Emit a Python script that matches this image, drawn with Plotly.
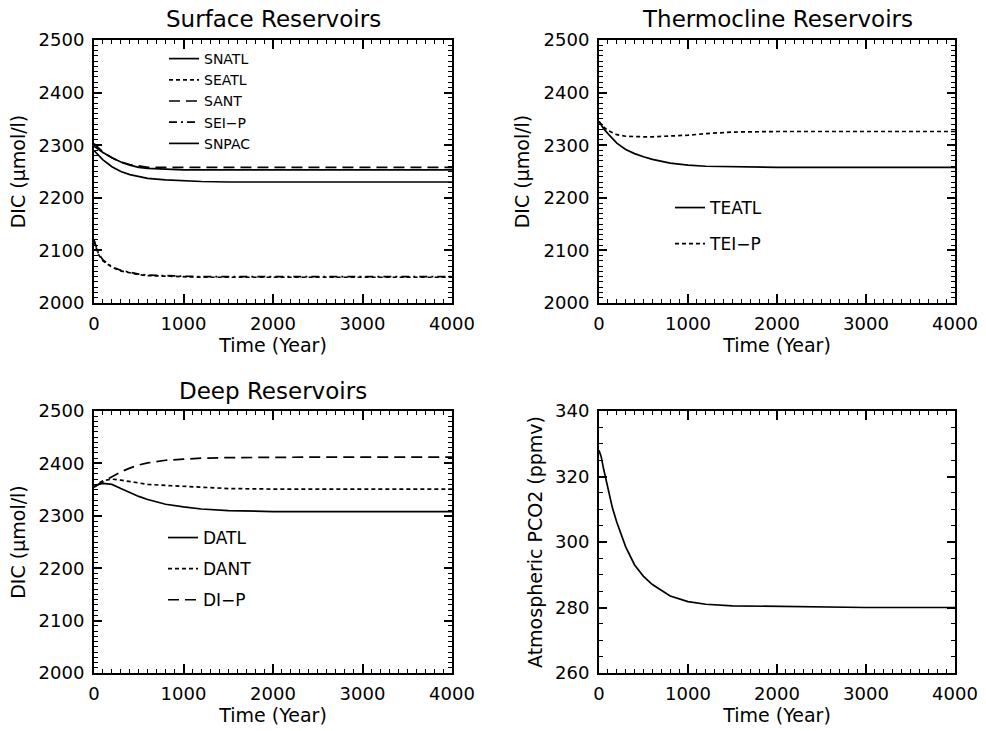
import plotly.graph_objects as go

# ---------------- data ----------------
t = [0, 50, 100, 200, 300, 400, 500, 600, 800, 1000, 1200, 1500, 2000, 2500, 3000, 3500, 4000]

snatl = [2298, 2292, 2286, 2276, 2268, 2262, 2258, 2256, 2254, 2253, 2253, 2253, 2253, 2253, 2253, 2253, 2253]
seatl = [2118, 2092, 2080, 2068, 2061, 2057, 2054, 2052, 2051, 2050, 2049, 2049, 2049, 2049, 2049, 2049, 2049]
sant  = [2303, 2294, 2287, 2276, 2268, 2263, 2260, 2258, 2258, 2258, 2258, 2258, 2258, 2258, 2258, 2258, 2258]
seip  = [2120, 2094, 2082, 2069, 2062, 2058, 2055, 2053, 2052, 2051, 2050, 2050, 2050, 2050, 2050, 2050, 2050]
snpac = [2290, 2280, 2272, 2259, 2250, 2244, 2240, 2237, 2234, 2232, 2231, 2230, 2230, 2230, 2230, 2230, 2230]

teatl = [2345, 2332, 2322, 2304, 2292, 2284, 2278, 2273, 2266, 2262, 2260, 2259, 2258, 2258, 2258, 2258, 2258]
teip  = [2345, 2335, 2328, 2320, 2317, 2316, 2316, 2316, 2317, 2319, 2322, 2325, 2326, 2326, 2326, 2326, 2326]

datl  = [2355, 2360, 2362, 2360, 2352, 2344, 2337, 2331, 2322, 2317, 2313, 2310, 2308, 2308, 2308, 2308, 2308]
dant  = [2355, 2362, 2367, 2370, 2368, 2365, 2362, 2360, 2358, 2356, 2354, 2352, 2351, 2351, 2351, 2351, 2351]
dip   = [2355, 2360, 2365, 2375, 2384, 2391, 2397, 2401, 2406, 2408, 2410, 2411, 2412, 2412, 2412, 2412, 2412]

ta    = [0, 25, 50, 75, 100, 150, 200, 300, 400, 500, 600, 800, 1000, 1200, 1500, 2000, 2500, 3000, 4000]
pco2  = [328, 326, 322.5, 319.5, 316, 310.5, 306, 298.5, 293, 289.5, 287, 283.5, 281.8, 281, 280.5, 280.3, 280.1, 280, 280]

x_ticks = [0, 1000, 2000, 3000, 4000]
dic_ticks = [2000, 2100, 2200, 2300, 2400, 2500]
pco2_ticks = [260, 280, 300, 320, 340]

# ---------------- figure ----------------
FONT = "DejaVu Sans"
fig = go.Figure()

LW = 1.7
def add(x, y, name, dash, xa, ya, leg, grp):
    fig.add_trace(go.Scatter(x=x, y=y, mode="lines", name=name,
                             line=dict(color="black", width=LW, dash=dash),
                             xaxis=xa, yaxis=ya, legend=leg, legendgroup=grp,
                             showlegend=leg is not None, hoverinfo="skip"))

SOLID = "solid"
SHORT = "4px,3px"
LONG = "11px,6px"
DASHDOT = "8px,4px,2px,4px"

add(t, snatl, "SNATL", SOLID, "x", "y", "legend", "a1")
add(t, seatl, "SEATL", SHORT, "x", "y", "legend", "a2")
add(t, sant, "SANT", LONG, "x", "y", "legend", "a3")
add(t, seip, "SEI\u2212P", DASHDOT, "x", "y", "legend", "a4")
add(t, snpac, "SNPAC", SOLID, "x", "y", "legend", "a5")

add(t, teatl, "TEATL", SOLID, "x2", "y2", "legend2", "b1")
add(t, teip, "TEI\u2212P", SHORT, "x2", "y2", "legend2", "b2")

add(t, datl, "DATL", SOLID, "x3", "y3", "legend3", "c1")
add(t, dant, "DANT", SHORT, "x3", "y3", "legend3", "c2")
add(t, dip, "DI\u2212P", LONG, "x3", "y3", "legend3", "c3")

add(ta, pco2, "PCO2", SOLID, "x4", "y4", None, "d1")

W, H = 986, 731
LX = [94 / W, 452 / W]
RX = [599 / W, 955 / W]
TY = [1 - 303 / H, 1 - 40 / H]
BY = [1 - 673 / H, 1 - 411 / H]

tickfont = dict(family=FONT, size=18, color="black")
titlefont = dict(family=FONT, size=19, color="black")

def xax(dom, anchor):
    return dict(domain=dom, anchor=anchor, range=[0, 4000], tickvals=x_ticks,
                ticktext=[str(v) for v in x_ticks], automargin=False,
                ticks="inside", ticklen=9, tickwidth=1.5, tickcolor="black",
                minor=dict(dtick=100, tick0=0, ticks="inside", ticklen=4, tickwidth=1.2, tickcolor="black"),
                showline=True, linewidth=2, linecolor="black", mirror="ticks",
                showgrid=False, zeroline=False, tickfont=tickfont, ticklabelstandoff=3,
                title=dict(text="Time (Year)", font=titlefont, standoff=2))

def yax(dom, anchor, rng, tv, minor_dt, title, standoff):
    return dict(domain=dom, anchor=anchor, range=rng, tickvals=tv,
                ticktext=[str(v) for v in tv], automargin=False,
                ticks="inside", ticklen=8, tickwidth=1.5, tickcolor="black",
                minor=dict(dtick=minor_dt, tick0=rng[0], ticks="inside", ticklen=4, tickwidth=1.2, tickcolor="black"),
                showline=True, linewidth=2, linecolor="black", mirror="ticks",
                showgrid=False, zeroline=False, tickfont=tickfont, ticklabelstandoff=4,
                title=dict(text=title, font=titlefont, standoff=standoff))

dic_title = "DIC (\u03bcmol/l)"
fig.update_layout(
    width=W, height=H, margin=dict(l=0, r=0, t=0, b=0, autoexpand=False),
    paper_bgcolor="white", plot_bgcolor="white",
    font=dict(family=FONT, color="black"),
    xaxis=xax(LX, "y"), yaxis=yax(TY, "x", [2000, 2500], dic_ticks, 10, dic_title, 8),
    xaxis2=xax(RX, "y2"), yaxis2=yax(TY, "x2", [2000, 2500], dic_ticks, 10, dic_title, 9),
    xaxis3=xax(LX, "y3"), yaxis3=yax(BY, "x3", [2000, 2500], dic_ticks, 10, dic_title, 8),
    xaxis4=xax(RX, "y4"), yaxis4=yax(BY, "x4", [260, 340], pco2_ticks, 5, "Atmospheric PCO2 (ppmv)", 7),
    legend=dict(x=164 / W, y=1 - 43 / H, xanchor="left", yanchor="top", bgcolor="rgba(0,0,0,0)",
                font=dict(family=FONT, size=14, color="black"), tracegroupgap=0, itemwidth=30, borderwidth=0),
    legend2=dict(x=670 / W, y=1 - 190 / H, xanchor="left", yanchor="top", bgcolor="rgba(0,0,0,0)",
                 font=dict(family=FONT, size=17, color="black"), tracegroupgap=11, itemwidth=30, borderwidth=0),
    legend3=dict(x=163 / W, y=1 - 520 / H, xanchor="left", yanchor="top", bgcolor="rgba(0,0,0,0)",
                 font=dict(family=FONT, size=17, color="black"), tracegroupgap=6, itemwidth=30, borderwidth=0),
)

titles = [("Surface Reservoirs", (LX[0] + LX[1]) / 2, 1 - 19 / H),
          ("Thermocline Reservoirs", (RX[0] + RX[1]) / 2, 1 - 19 / H),
          ("Deep Reservoirs", (LX[0] + LX[1]) / 2, 1 - 391 / H)]
for txt, xx, yy in titles:
    fig.add_annotation(text=txt, x=xx, y=yy, xref="paper", yref="paper", showarrow=False,
                       xanchor="center", yanchor="middle", font=dict(family=FONT, size=23, color="black"))

fig.write_html("out.html")
